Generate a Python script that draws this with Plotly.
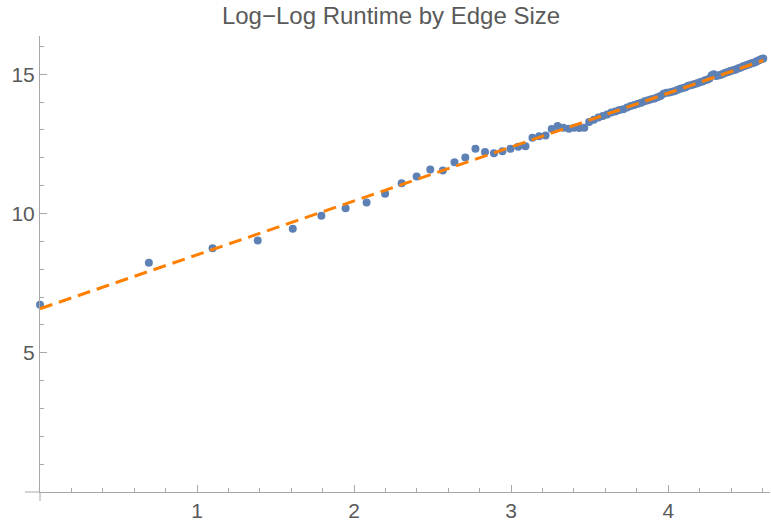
import numpy as np
import plotly.graph_objects as go

edge_size = [1, 2, 3, 4, 5, 6, 7, 8, 9, 10,
             11, 12, 13, 14, 15, 16, 17, 18, 19, 20,
             21, 22, 23, 24, 25, 26, 27, 28, 29, 30,
             31, 32, 33, 34, 35, 36, 37, 38, 39, 40,
             41, 42, 43, 44, 45, 46, 47, 48, 49, 50,
             51, 52, 53, 54, 55, 56, 57, 58, 59, 60,
             61, 62, 63, 64, 65, 66, 67, 68, 69, 70,
             71, 72, 73, 74, 75, 76, 77, 78, 79, 80,
             81, 82, 83, 84, 85, 86, 87, 88, 89, 90,
             91, 92, 93, 94, 95, 96, 97, 98, 99, 100]

log_runtime = [6.72, 8.23, 8.75, 9.03, 9.45, 9.92, 10.19, 10.39, 10.71, 11.08,
               11.33, 11.58, 11.54, 11.84, 12.01, 12.32, 12.21, 12.16, 12.23, 12.32,
               12.39, 12.41, 12.72, 12.77, 12.80, 13.03, 13.14, 13.08, 13.04, 13.08,
               13.07, 13.08, 13.28, 13.36, 13.44, 13.50, 13.55, 13.62, 13.66, 13.71,
               13.74, 13.80, 13.86, 13.89, 13.94, 13.97, 14.03, 14.06, 14.10, 14.13,
               14.17, 14.22, 14.30, 14.33, 14.34, 14.37, 14.40, 14.44, 14.48, 14.50,
               14.53, 14.58, 14.60, 14.63, 14.66, 14.68, 14.72, 14.74, 14.78, 14.80,
               14.84, 14.96, 15.00, 14.93, 14.95, 14.97, 15.00, 15.03, 15.06, 15.08,
               15.11, 15.13, 15.15, 15.17, 15.20, 15.22, 15.25, 15.28, 15.30, 15.33,
               15.35, 15.37, 15.39, 15.41, 15.43, 15.46, 15.49, 15.52, 15.54, 15.56]

fit_intercept = 6.58
fit_slope = 1.935

x_ticks = [1, 2, 3, 4]
y_ticks = [5, 10, 15]

log_edge = np.log(np.array(edge_size, dtype=float))
fit_x = np.array([log_edge.min(), log_edge.max()])
fit_y = fit_intercept + fit_slope * fit_x

AXIS = "#a8a8a8"
TEXT = "#5a5a5a"
FONT = "Liberation Sans, Arial, sans-serif"

fig = go.Figure()
fig.add_trace(go.Scatter(
    x=log_edge, y=log_runtime, mode="markers",
    marker=dict(color="#5E81B5", size=8, line=dict(width=0)),
    cliponaxis=False, showlegend=False,
))
fig.add_trace(go.Scatter(
    x=fit_x, y=fit_y, mode="lines",
    line=dict(color="#FF8000", width=3, dash="13px,7px"),
    cliponaxis=False, showlegend=False,
))

fig.update_layout(
    width=771, height=527,
    margin=dict(l=40, r=1, t=36, b=35, autoexpand=False),
    paper_bgcolor="white", plot_bgcolor="white",
    font=dict(family=FONT, color=TEXT, size=21),
    title=dict(text="Log\u2212Log Runtime by Edge Size", x=391 / 771, xref="container",
               y=1 - 16 / 527, yref="container", xanchor="center", yanchor="middle",
               font=dict(family=FONT, size=24, color=TEXT)),
    xaxis=dict(range=[0, 4.648], showgrid=False, zeroline=False, automargin=False,
               showline=True, linecolor=AXIS, linewidth=1,
               tickmode="array", tickvals=x_ticks, ticktext=[str(v) for v in x_ticks],
               ticks="inside", ticklen=7, tickcolor=AXIS, tickwidth=1,
               minor=dict(tick0=0, dtick=0.2, ticks="inside", ticklen=4,
                          tickcolor=AXIS, tickwidth=1, showgrid=False),
               tickfont=dict(size=21, color=TEXT)),
    yaxis=dict(range=[0, 16.37], showgrid=False, zeroline=False, automargin=False,
               showline=True, linecolor=AXIS, linewidth=1,
               tickmode="array", tickvals=y_ticks, ticktext=[str(v) for v in y_ticks],
               ticks="inside", ticklen=7, tickcolor=AXIS, tickwidth=1,
               minor=dict(tick0=0, dtick=1, ticks="inside", ticklen=4,
                          tickcolor=AXIS, tickwidth=1, showgrid=False),
               tickfont=dict(size=21, color=TEXT)),
    shapes=[
        dict(type="line", xref="paper", yref="paper", x0=-15 / 730, x1=0, y0=0, y1=0,
             line=dict(color=AXIS, width=1)),
        dict(type="line", xref="paper", yref="paper", x0=0, x1=0, y0=-9 / 456, y1=0,
             line=dict(color=AXIS, width=1)),
    ],
)

fig.write_html("out.html", config={"displayModeBar": False},
               post_script="document.body.style.margin='0';")
